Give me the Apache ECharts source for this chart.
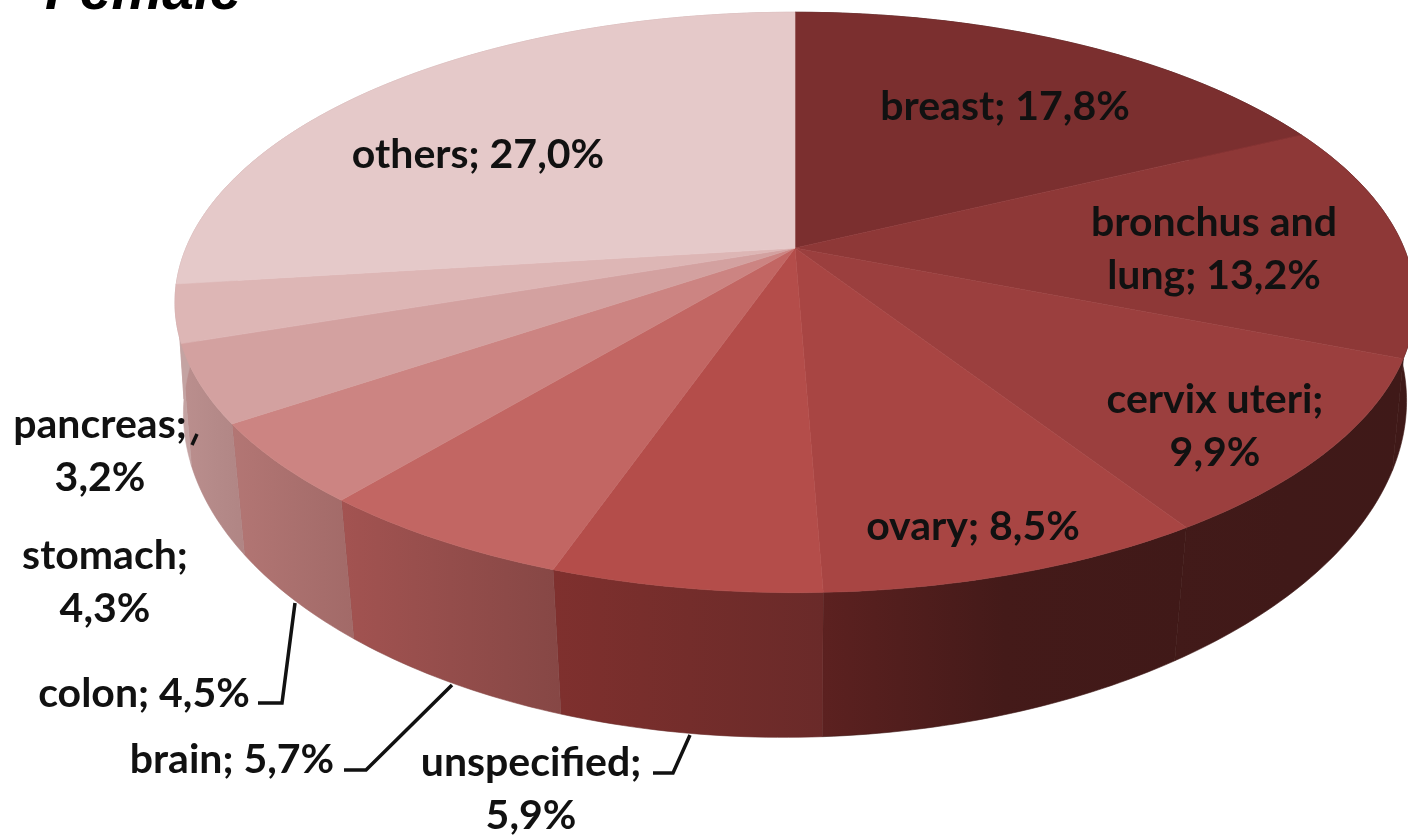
<!DOCTYPE html>
<html><head><meta charset="utf-8">
<style>html,body{margin:0;padding:0;background:#fff;overflow:hidden}#c{width:1408px;height:835px}</style>
<script src="https://cdn.jsdelivr.net/npm/echarts@6/dist/echarts.min.js"></script>
</head><body><div id="c"></div>
<script>
const categories = ['breast','bronchus and lung','cervix uteri','ovary','unspecified','brain','colon','stomach','pancreas','others'];
const values = [17.8,13.2,9.9,8.5,5.9,5.7,4.5,4.3,3.2,27.0];
const chartTitle = 'Female';
const topColors = ['#7b2f2f','#8e3837','#9b3f3e','#a84543','#b44d4a','#c26663','#cc8482','#d3a1a0','#ddb6b5','#e5c9c9'];
const wallLeft  = ['#3f1918','#3f1918','#421a19','#5c2120','#7f302e','#a35351','#b37674','#bb8f8e','#c4a3a2','#c4a3a2'];
const wallMid   = ['#3f1918','#3f1918','#401918','#441a19','#742d2b','#944d4b','#aa706e','#b58a89','#c4a3a2','#c4a3a2'];
const wallRight = ['#3f1918','#3f1918','#3f1918','#401918','#6a2a29','#864745','#a26a68','#b08584','#c4a3a2','#c4a3a2'];
const labelLines = [
  ['breast; 17,8%'],['bronchus and','lung; 13,2%'],['cervix uteri;','9,9%'],['ovary; 8,5%'],
  ['unspecified;','5,9%'],['brain; 5,7%'],['colon; 4,5%'],['stomach;','4,3%'],['pancreas;','3,2%'],['others; 27,0%']];
const labelAnchors = [[1005,107],[1214,249],[1215,426],[973,527],[531,789],[232,760],[144,694],[105,582],[100,451],[478,155]];
const leaderPaths = [
  [[258,703],[282,703],[295,603]],
  [[344,770],[366,770],[452,685]],
  [[653,773],[673,773],[690,735]],
  [[197,434],[192,445]]
];

const C = {x:795,y:248,f:609,g:280,k:0.1876};
const B = {y:353,sx0:0.99,sxSlope:0.00007,sy:1.115,skew:0.01};
const total = values.reduce((a,b)=>a+b,0);
const cum = values.reduce((a,v)=>{a.push(a[a.length-1]+v);return a;},[0]);
function rim(a){
  const t=a/total*2*Math.PI, X=Math.sin(t), Y=Math.cos(t), d=1+C.k*Y;
  return [C.f*X/d, -C.g*Y/d];
}
function topPt(a){const p=rim(a);return [C.x+p[0],C.y+p[1]];}
function botPt(a){const p=rim(a);return [C.x+(B.sx0-B.sxSlope*p[1])*p[0],B.y+B.sy*p[1]-B.skew*p[0]];}
function samples(i){
  const out=[],a0=cum[i],a1=cum[i+1],n=Math.ceil((a1-a0)*4);
  for(let j=0;j<=n;j++) out.push(a0+(a1-a0)*j/n);
  return out;
}
const data = values.map((v,i)=>({name:categories[i],value:[i,v]}));

const option = {
  animation:false,
  backgroundColor:'#fff',
  graphic:[{type:'text',x:45,y:-7,silent:true,
    style:{text:chartTitle,font:'italic bold 57px "Liberation Sans"',fill:'#000',verticalAlign:'middle'}}],
  series:[
    {type:'custom',coordinateSystem:'none',silent:true,z:1,data,
     renderItem(p,api){
       const i=api.value(0), s=samples(i);
       const pts=s.map(topPt).concat(s.slice().reverse().map(botPt));
       return {type:'polygon',shape:{points:pts},style:{
         fill:{type:'linear',x:0,y:0,x2:1,y2:0,colorStops:[{offset:0,color:wallLeft[i]},{offset:0.5,color:wallMid[i]},{offset:1,color:wallRight[i]}]},
         stroke:wallRight[i],lineWidth:0.6}};
     }},
    {type:'custom',coordinateSystem:'none',silent:true,z:2,data,
     renderItem(p,api){
       const i=api.value(0);
       const pts=[[C.x,C.y]].concat(samples(i).map(topPt));
       return {type:'polygon',shape:{points:pts},style:{fill:topColors[i],stroke:topColors[i],lineWidth:0.6}};
     }},
    {type:'custom',coordinateSystem:'none',silent:true,z:3,data:leaderPaths.map((_,i)=>[i]),
     renderItem(p,api){
       return {type:'polyline',shape:{points:leaderPaths[api.value(0)]},
         style:{stroke:'#111',lineWidth:3.5,fill:'none'}};
     }},
    {type:'custom',coordinateSystem:'none',silent:true,z:4,data,
     renderItem(p,api){
       const i=api.value(0),a=labelAnchors[i];
       return {type:'text',x:a[0],y:a[1],style:{
         text:labelLines[i].join('\n'),font:'bold 41px Lato',lineHeight:53,
         align:'center',verticalAlign:'middle',fill:'#111'}};
     }}
  ]
};
echarts.init(document.getElementById('c'),null,{renderer:'canvas'}).setOption(option);
</script></body></html>
